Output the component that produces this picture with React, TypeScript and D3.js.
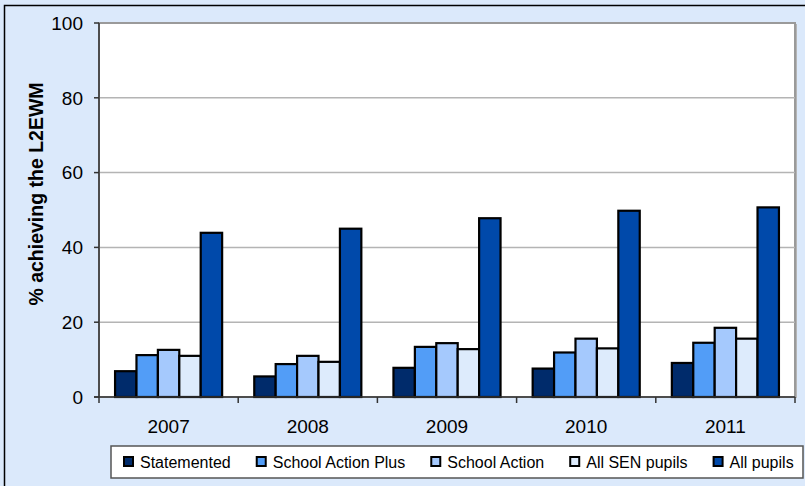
import React, { useRef, useEffect } from 'react';
import * as d3 from 'd3';

const years = ['2007', '2008', '2009', '2010', '2011'];
const seriesNames = ['Statemented', 'School Action Plus', 'School Action', 'All SEN pupils', 'All pupils'];
const statemented = [6.9, 5.5, 7.8, 7.6, 9.1];
const schoolActionPlus = [11.2, 8.8, 13.4, 11.9, 14.5];
const schoolAction = [12.6, 11.0, 14.4, 15.6, 18.5];
const allSen = [11.0, 9.4, 12.8, 13.0, 15.6];
const allPupils = [43.9, 45.0, 47.8, 49.8, 50.7];
const yTicks = [0, 20, 40, 60, 80, 100];

const colors = ['#002B6B', '#529DF7', '#A5C9FD', '#DDEBFC', '#0049AA'];
const FONT = 'Arial, "Liberation Sans", sans-serif';

function App(): React.ReactElement {
  const svgRef = useRef<SVGSVGElement | null>(null);

  useEffect(() => {
    const W = 805;
    const H = 486;
    const m = { left: 99, right: 795, top: 23, bottom: 397 };
    const values = [statemented, schoolActionPlus, schoolAction, allSen, allPupils];

    const svg = d3.select(svgRef.current);
    svg.selectAll('*').remove();

    // chart area background + border
    svg.append('rect').attr('x', 0).attr('y', 0).attr('width', W).attr('height', H).attr('fill', '#DBE9FB');
    svg.append('rect')
      .attr('x', 4.5).attr('y', 5.5).attr('width', W + 10).attr('height', H + 10)
      .attr('fill', 'none').attr('stroke', '#000').attr('stroke-width', 1.5);

    const x0 = d3.scaleBand<string>().domain(years).range([m.left, m.right]);
    const x1 = d3.scaleBand<string>().domain(seriesNames).range([0, x0.bandwidth()]).paddingOuter(0.75);
    const y = d3.scaleLinear().domain([0, 100]).range([m.bottom, m.top]);

    // plot area with shadowed border
    svg.append('rect')
      .attr('x', m.left + 2).attr('y', m.top + 1).attr('width', m.right - m.left).attr('height', m.bottom - m.top)
      .attr('fill', '#B5B5B5');
    svg.append('rect')
      .attr('x', m.left).attr('y', m.top).attr('width', m.right - m.left).attr('height', m.bottom - m.top)
      .attr('fill', '#fff').attr('stroke', '#9A9A9A').attr('stroke-width', 2);

    // gridlines
    svg.append('g').selectAll('line')
      .data(yTicks.filter((t) => t > 0 && t < 100))
      .enter().append('line')
      .attr('x1', m.left).attr('x2', m.right)
      .attr('y1', (d) => y(d)).attr('y2', (d) => y(d))
      .attr('stroke', '#B4B4B4').attr('stroke-width', 1.5);

    // bars
    const groups = svg.append('g').selectAll('g')
      .data(years)
      .enter().append('g')
      .attr('transform', (d) => `translate(${x0(d)},0)`);

    groups.selectAll('rect')
      .data((d, i) => seriesNames.map((s, k) => ({ s, v: values[k][i], k })))
      .enter().append('rect')
      .attr('x', (d) => x1(d.s) as number)
      .attr('y', (d) => y(d.v))
      .attr('width', x1.bandwidth())
      .attr('height', (d) => y(0) - y(d.v))
      .attr('fill', (d) => colors[d.k])
      .attr('stroke', '#000')
      .attr('stroke-width', 2.2);

    // y axis
    const yAxis = svg.append('g');
    yAxis.append('line')
      .attr('x1', m.left).attr('x2', m.left).attr('y1', m.top).attr('y2', m.bottom)
      .attr('stroke', '#333').attr('stroke-width', 1.5);
    yAxis.selectAll('line.tick')
      .data(yTicks).enter().append('line')
      .attr('class', 'tick')
      .attr('x1', m.left - 5).attr('x2', m.left)
      .attr('y1', (d) => y(d)).attr('y2', (d) => y(d))
      .attr('stroke', '#333').attr('stroke-width', 1.5);
    yAxis.selectAll('text')
      .data(yTicks).enter().append('text')
      .attr('x', 83).attr('y', (d) => y(d))
      .attr('dy', '0.36em')
      .attr('text-anchor', 'end')
      .style('font-family', FONT).style('font-size', '19px')
      .text((d) => d);

    // x axis
    const xAxis = svg.append('g');
    xAxis.append('line')
      .attr('x1', m.left - 5).attr('x2', m.right).attr('y1', m.bottom).attr('y2', m.bottom)
      .attr('stroke', '#333').attr('stroke-width', 1.5);
    xAxis.selectAll('line.tick')
      .data([...years.map((d) => x0(d) as number), m.right]).enter().append('line')
      .attr('class', 'tick')
      .attr('x1', (d) => d).attr('x2', (d) => d)
      .attr('y1', m.bottom).attr('y2', m.bottom + 6)
      .attr('stroke', '#333').attr('stroke-width', 1.5);
    xAxis.selectAll('text')
      .data(years).enter().append('text')
      .attr('x', (d) => (x0(d) as number) + x0.bandwidth() / 2)
      .attr('y', 433)
      .attr('text-anchor', 'middle')
      .style('font-family', FONT).style('font-size', '19px')
      .text((d) => d);

    // y title
    svg.append('text')
      .attr('transform', 'translate(43,194) rotate(-90)')
      .attr('text-anchor', 'middle')
      .style('font-family', FONT).style('font-size', '19.5px').style('font-weight', 'bold')
      .text('% achieving the L2EWM');

    // legend
    const legend = svg.append('g');
    legend.append('rect')
      .attr('x', 111).attr('y', 446).attr('width', 692).attr('height', 32)
      .attr('fill', '#fff').attr('stroke', '#555').attr('stroke-width', 1.5);
    let cx = 124;
    seriesNames.forEach((s, k) => {
      legend.append('rect')
        .attr('x', cx).attr('y', 457).attr('width', 9).attr('height', 9)
        .attr('fill', colors[k]).attr('stroke', '#000').attr('stroke-width', 2);
      const t = legend.append('text')
        .attr('x', cx + 16).attr('y', 462)
        .attr('dy', '0.36em')
        .style('font-family', FONT).style('font-size', '16px')
        .text(s);
      const len = (t.node() as SVGTextElement).getComputedTextLength();
      cx += 16 + len + 26;
    });
  }, []);

  return (
    <svg
      ref={svgRef}
      width={805}
      height={486}
      style={{ position: 'absolute', left: 0, top: 0 }}
    />
  );
}

export default App;
